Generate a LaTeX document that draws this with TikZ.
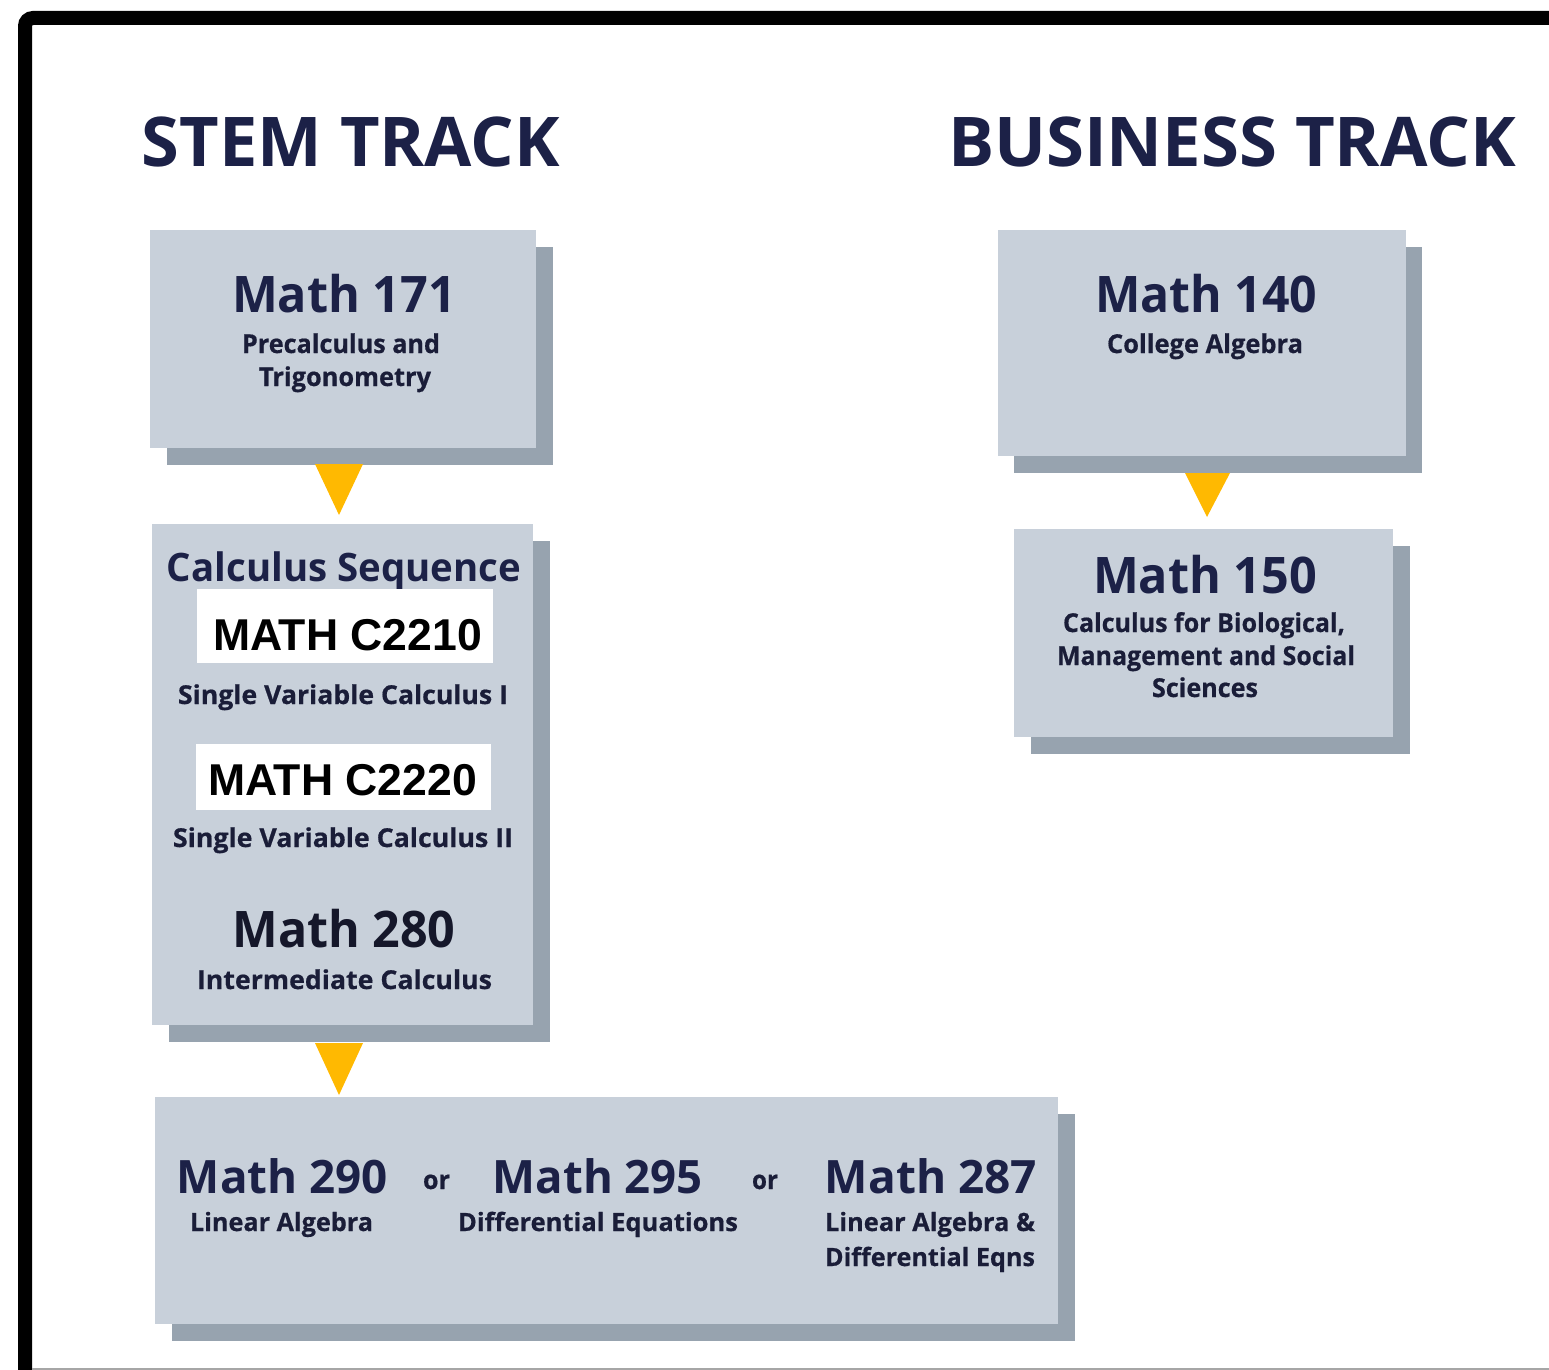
\documentclass[tikz,border=0pt]{standalone}
\usepackage{fontspec}
\usepackage{graphicx}
\setmainfont{Open Sans}
\newfontfamily\heavyfont{Open Sans}[BoldFeatures={FakeBold=0.6}]
\newfontfamily\arialfont{Liberation Sans}
\usetikzlibrary{shadows}
\newdimen\pxu \pxu=0.5pt
\definecolor{navy}{HTML}{1C2147}
\definecolor{subnavy}{HTML}{1A1D38}
\definecolor{boxfill}{HTML}{C8D0DA}
\definecolor{shadowc}{HTML}{97A3AF}
\definecolor{gold}{HTML}{FFB901}
\definecolor{darktxt}{HTML}{15172A}
\newcommand\fitto[3]{\resizebox{#1\pxu}{\height}{\fontsize{#2}{#2}\selectfont #3}}
\tikzset{
  cbox/.style={rectangle, fill=boxfill, draw=none, inner sep=0pt,
    drop shadow={shadow xshift=16.5\pxu, shadow yshift=-16.5\pxu, fill=shadowc, opacity=1}},
  wbox/.style={rectangle, fill=white, draw=none, inner sep=0pt},
  txt/.style={anchor=base, inner sep=0pt, text=navy, font=\bfseries},
  subtxt/.style={anchor=base, inner sep=0pt, text=subnavy, font=\heavyfont\bfseries},
  codetxt/.style={anchor=base, inner sep=0pt, text=black, font=\arialfont\bfseries},
  tri/.style={fill=gold, draw=none}
}
\begin{document}
\begin{tikzpicture}[x=0.5pt, y=-0.5pt]
\useasboundingbox (0,0) rectangle (1549,1370);
\clip (0,0) rectangle (1549,1370);
\fill[white] (0,0) rectangle (1549,1370);
% frame
\draw[line width=14\pxu, rounded corners=8\pxu] (25,1400) -- (25,18) -- (1600,18);
\draw[line width=2\pxu, gray!70] (32,1369) -- (1549,1369);

% titles
\node[txt] (stem) at (351,167) {\fitto{418}{34.3pt}{STEM TRACK}};
\node[txt] (bus) at (1232,167) {\fitto{568}{34.3pt}{BUSINESS TRACK}};

% boxes
\node[cbox, minimum width=386\pxu, minimum height=218\pxu] (b171) at (343,339) {};
\node[cbox, minimum width=381\pxu, minimum height=501\pxu] (bcalc) at (342.5,774.5) {};
\node[cbox, minimum width=903\pxu, minimum height=227\pxu] (bup) at (606.5,1210.5) {};
\node[cbox, minimum width=408\pxu, minimum height=226\pxu] (b140) at (1201.5,343) {};
\node[cbox, minimum width=379\pxu, minimum height=208\pxu] (b150) at (1203.5,633) {};

% triangles
\coordinate (t1) at (339,515);
\coordinate (t2) at (339,1095);
\coordinate (t3) at (1207,517);
\fill[tri] (315,464) -- (363,464) -- (t1) -- cycle;
\fill[tri] (315,1043) -- (363,1043) -- (t2) -- cycle;
\fill[tri] (1185,473) -- (1230,473) -- (t3) -- cycle;

% Math 171
\node[txt] (m171) at (344,312) {\fitto{224}{25.2pt}{Math 171}};
\node[subtxt] (m171a) at (341,353) {\fitto{198}{13pt}{Precalculus and}};
\node[subtxt] (m171b) at (345,386) {\fitto{172}{13pt}{Trigonometry}};

% Calculus sequence
\node[txt] (cseq) at (344,581) {\fitto{354}{19.6pt}{Calculus Sequence}};
\node[wbox, minimum width=296\pxu, minimum height=74\pxu] (w1) at (345,626) {};
\node[codetxt] (c2210) at (347.5,650) {\fitto{269}{22.3pt}{MATH C2210}};
\node[subtxt] (svc1) at (343,704) {\fitto{330}{13pt}{Single Variable Calculus I}};
\node[wbox, minimum width=295\pxu, minimum height=66\pxu] (w2) at (343.5,777) {};
\node[codetxt] (c2220) at (342.5,795) {\fitto{269}{22.3pt}{MATH C2220}};
\node[subtxt] (svc2) at (343,847) {\fitto{340}{13pt}{Single Variable Calculus II}};
\node[txt, text=darktxt] (m280) at (344,947) {\fitto{223}{25.2pt}{Math 280}};
\node[subtxt] (m280a) at (344.5,989) {\fitto{295}{13pt}{Intermediate Calculus}};

% Business
\node[txt] (m140) at (1206,312) {\fitto{222}{25.2pt}{Math 140}};
\node[subtxt] (m140a) at (1205,353) {\fitto{196}{13pt}{College Algebra}};
\node[txt] (m150) at (1205,593) {\fitto{224}{25.2pt}{Math 150}};
\node[subtxt] (m150a) at (1204,632) {\fitto{282}{13pt}{Calculus for Biological,}};
\node[subtxt] (m150b) at (1206,665) {\fitto{298}{13pt}{Management and Social}};
\node[subtxt] (m150c) at (1205,697) {\fitto{106}{13pt}{Sciences}};

% upper division
\node[txt] (m290) at (282.5,1193) {\fitto{211}{23pt}{Math 290}};
\node[subtxt] (m290a) at (281.5,1231) {\fitto{183}{12.6pt}{Linear Algebra}};
\node[subtxt] (or1) at (436.5,1189) {\fitto{27}{13pt}{or}};
\node[txt] (m295) at (598,1193) {\fitto{210}{23pt}{Math 295}};
\node[subtxt] (m295a) at (598,1231) {\fitto{280}{12.6pt}{Differential Equations}};
\node[subtxt] (or2) at (765,1189) {\fitto{26}{13pt}{or}};
\node[txt] (m287) at (931,1193) {\fitto{212}{23pt}{Math 287}};
\node[subtxt] (m287a) at (930,1231) {\fitto{210}{12.6pt}{Linear Algebra \&}};
\node[subtxt] (m287b) at (930,1266) {\fitto{210}{12.6pt}{Differential Eqns}};
\end{tikzpicture}
\end{document}
